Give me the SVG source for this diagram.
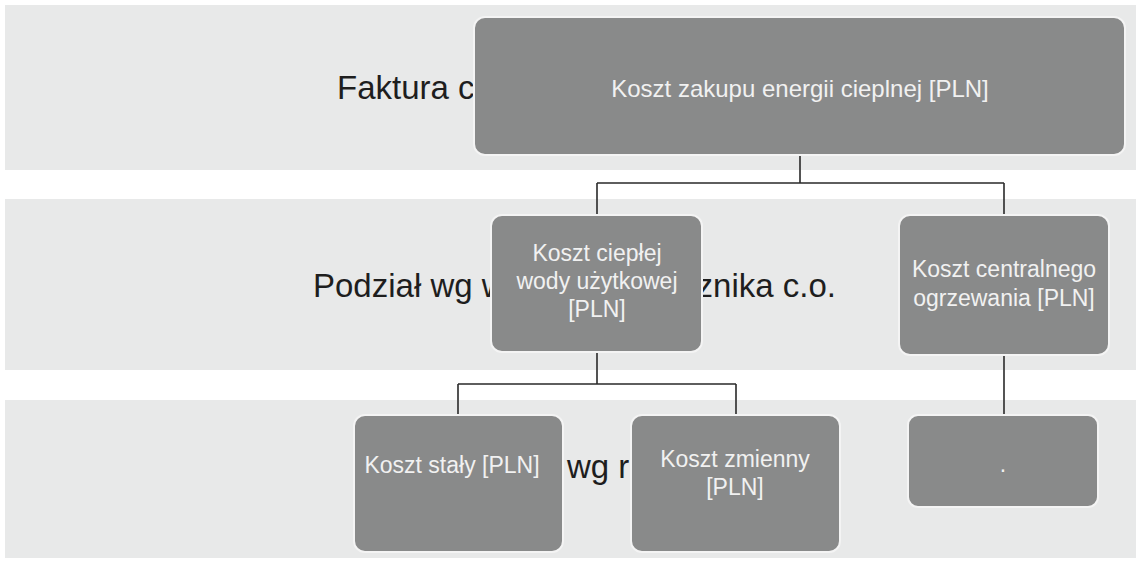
<svg xmlns="http://www.w3.org/2000/svg" width="1141" height="566" viewBox="0 0 1141 566">
  <style>
    .band { fill: #e8e9e9; }
    .band-text { font-family: "Liberation Sans", Arial, sans-serif; font-size: 33px; fill: #1e1e1e; }
    .node rect { fill: #898a8a; stroke: #f4f4f4; stroke-width: 2; }
    .node text { font-family: "Liberation Sans", Arial, sans-serif; font-size: 23px; fill: #f1f1f1; text-anchor: middle; }
    .links path { fill: none; stroke: #2a2a2a; stroke-width: 1.6; }
  </style>

  <rect width="1141" height="566" fill="#ffffff"/>

  <!-- background bands with their labels -->
  <g id="bands">
    <rect class="band" x="5" y="5" width="1131" height="165"/>
    <rect class="band" x="5" y="199" width="1131" height="171"/>
    <rect class="band" x="5" y="400" width="1131" height="158"/>
    <text class="band-text" x="337" y="99">Faktura c</text>
    <text class="band-text" x="313" y="297">Podział wg w</text>
    <text class="band-text" x="836" y="297" text-anchor="end">cznika c.o.</text>
    <text class="band-text" x="567" y="478">wg r</text>
  </g>

  <!-- connectors -->
  <g class="links" id="connectors">
    <path d="M800 155 V183 M597 183 H1004 M597 183 V215 M1004 183 V215"/>
    <path d="M597 352 V384 M458 384 H736 M458 384 V415 M736 384 V415"/>
    <path d="M1004 355 V415"/>
  </g>

  <g class="node" id="n-koszt-zakupu">
    <rect x="474" y="17" width="651" height="138" rx="11"/>
    <text x="800" y="97" style="font-size:24px">Koszt zakupu energii cieplnej [PLN]</text>
  </g>

  <g class="node" id="n-cwu">
    <rect x="491" y="215" width="211" height="137" rx="11"/>
    <text x="597" y="261">Koszt ciepłej</text>
    <text x="597" y="289">wody użytkowej</text>
    <text x="597" y="317">[PLN]</text>
  </g>

  <g class="node" id="n-co">
    <rect x="899" y="215" width="210" height="140" rx="11"/>
    <text x="1004" y="277">Koszt centralnego</text>
    <text x="1004" y="306">ogrzewania [PLN]</text>
  </g>

  <g class="node" id="n-staly">
    <rect x="354" y="415" width="209" height="137" rx="11"/>
    <text x="452" y="473">Koszt stały [PLN]</text>
  </g>

  <g class="node" id="n-zmienny">
    <rect x="631" y="415" width="209" height="137" rx="11"/>
    <text x="735" y="467">Koszt zmienny</text>
    <text x="735" y="495">[PLN]</text>
  </g>

  <g class="node" id="n-empty">
    <rect x="908" y="415" width="190" height="92" rx="10"/>
    <text x="1003" y="472">.</text>
  </g>
</svg>
